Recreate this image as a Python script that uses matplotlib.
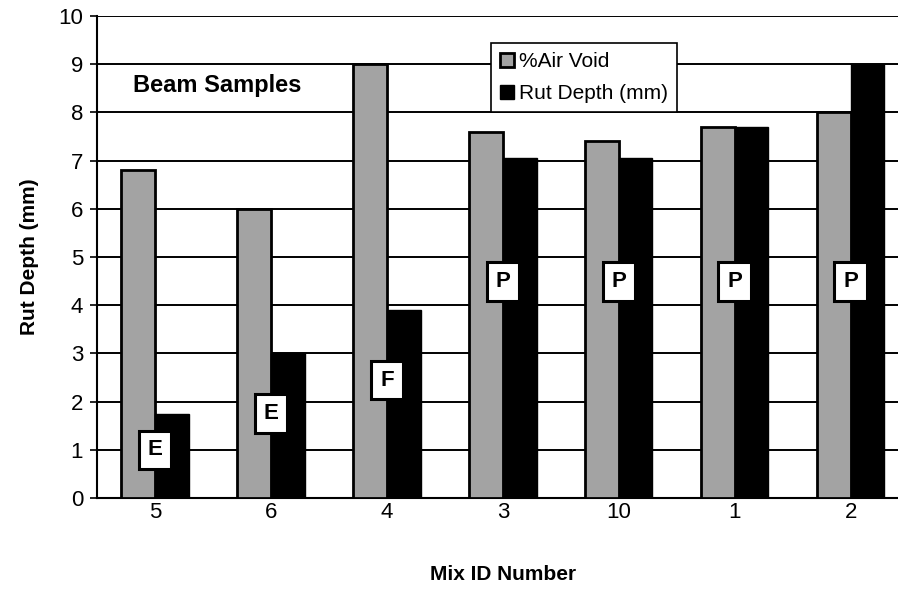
import matplotlib.pyplot as plt
import numpy as np

plt.rcParams['font.family'] = ['Liberation Sans', 'DejaVu Sans']

# Beam sample results per mix
mix_ids = ['5', '6', '4', '3', '10', '1', '2']
air_void = [6.8, 6.0, 9.0, 7.6, 7.4, 7.7, 8.0]
rut_depth = [1.75, 3.0, 3.9, 7.05, 7.05, 7.7, 9.0]
ratings = ['E', 'E', 'F', 'P', 'P', 'P', 'P']
rating_y = [1.0, 1.75, 2.45, 4.5, 4.5, 4.5, 4.5]

fig = plt.figure(figsize=(8.98, 5.93), dpi=100)
ax = fig.add_axes([0.108, 0.16, 0.904, 0.813])

x = np.arange(len(mix_ids))
w = 0.29
ax.bar(x - w / 2, air_void, w, color='#a3a3a3', edgecolor='black', linewidth=2,
       label='%Air Void', zorder=3)
ax.bar(x + w / 2, rut_depth, w, color='black', edgecolor='black', linewidth=1,
       label='Rut Depth (mm)', zorder=3)

# performance rating boxes
for xi, r, yi in zip(x, ratings, rating_y):
    ax.text(xi, yi, r, ha='center', va='center', fontsize=16, fontweight='bold',
            zorder=5,
            bbox=dict(boxstyle='square,pad=0.4', facecolor='white',
                      edgecolor='black', linewidth=2.2))

ax.text(-0.19, 8.55, 'Beam Samples', ha='left', va='center', fontsize=17,
        fontweight='bold')

ax.set_xlim(-0.5, 6.5)
ax.set_ylim(0, 10)
ax.set_yticks(range(0, 11))
ax.set_xticks(x)
ax.set_xticklabels(mix_ids)
ax.tick_params(axis='x', length=0, labelsize=16, pad=3)
ax.tick_params(axis='y', length=5, width=1.2, labelsize=16, pad=5)
ax.grid(axis='y', color='black', linewidth=1.4, zorder=0)
ax.set_axisbelow(True)

for s in ['top', 'right']:
    ax.spines[s].set_visible(False)
ax.spines['left'].set_linewidth(1.5)
ax.spines['bottom'].set_linewidth(1.5)

ax.set_xlabel('Mix ID Number', fontsize=15, fontweight='bold', labelpad=30)
ax.set_ylabel('Rut Depth (mm)', fontsize=15, fontweight='bold', labelpad=14)

leg = ax.legend(loc='upper left', bbox_to_anchor=(0.485, 0.944), fontsize=15,
                frameon=True, fancybox=False, edgecolor='black', framealpha=1,
                handlelength=0.65, handleheight=0.65, handletextpad=0.25,
                borderpad=0.45, labelspacing=0.6, borderaxespad=0)
leg.get_frame().set_linewidth(1.2)

fig.savefig('out.png', dpi=100)
